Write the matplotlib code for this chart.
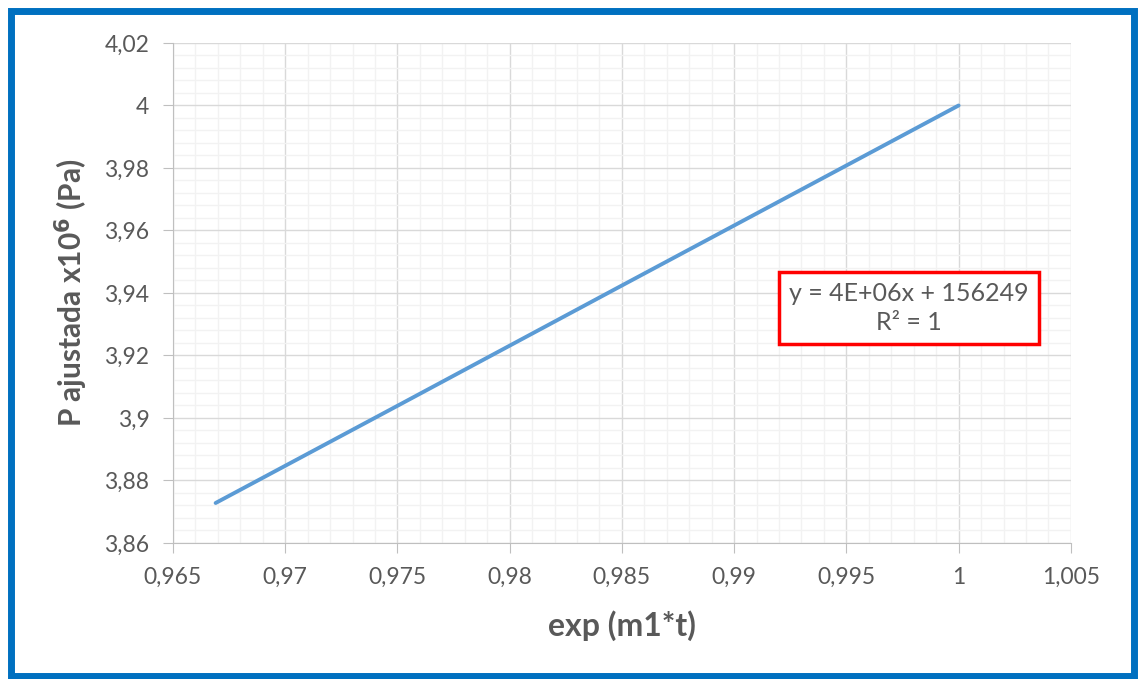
import matplotlib
matplotlib.use('Agg')
import matplotlib.pyplot as plt
from matplotlib.patches import Rectangle
from matplotlib.ticker import MultipleLocator, FuncFormatter

# data (x = exp(m1*t), y = P adjusted in MPa)
x_vals = [0.9669, 0.975, 0.985, 0.995, 1.0]
y_vals = [3.8728, 3.9039, 3.9424, 3.9808, 4.0]
fit_text = 'y = 4E+06x + 156249\nR² = 1'

plt.rcParams['font.family'] = ['Lato', 'DejaVu Sans']
GRAY = '#595959'

fig = plt.figure(figsize=(11.38, 6.79), dpi=100)
ax = fig.add_axes([0.152, 0.2003, 0.789, 0.7364])

ax.plot(x_vals, y_vals, color='#5B9BD5', lw=2.8, solid_capstyle='round')

ax.set_xlim(0.965, 1.005)
ax.set_ylim(3.86, 4.02)
ax.xaxis.set_major_locator(MultipleLocator(0.005))
ax.xaxis.set_minor_locator(MultipleLocator(0.001))
ax.yaxis.set_major_locator(MultipleLocator(0.02))
ax.yaxis.set_minor_locator(MultipleLocator(0.004))


def comma_fmt(v, pos):
    return ('%g' % round(v, 4)).replace('.', ',')


ax.xaxis.set_major_formatter(FuncFormatter(comma_fmt))
ax.yaxis.set_major_formatter(FuncFormatter(comma_fmt))

ax.grid(which='major', color='#D9D9D9', lw=1.0)
ax.grid(which='minor', color='#F2F2F2', lw=1.0)
ax.set_axisbelow(True)
for s in ['top', 'right']:
    ax.spines[s].set_visible(False)
for s in ['bottom', 'left']:
    ax.spines[s].set_color('#BFBFBF')
ax.tick_params(which='major', length=7, color='#BFBFBF', labelsize=16.5,
               labelcolor=GRAY, pad=10)
ax.tick_params(which='minor', length=0)

ax.set_xlabel('exp (m1*t)', fontsize=23, fontweight='bold', color=GRAY, labelpad=16)
ax.set_ylabel('P ajustada x10$^{\\mathbf{6}}$ (Pa)', fontsize=21.5, fontweight='bold',
              color=GRAY, labelpad=10)

ax.text(0.99778, 3.9352, fit_text, ha='center', va='center', fontsize=18,
        color=GRAY, linespacing=1.3,
        bbox=dict(boxstyle='square,pad=0.4', fc='white', ec='#FF0000', lw=2.5))

fig.patches.append(Rectangle((11 / 1138, 1 - 675.5 / 679), 1123 / 1138, 664.5 / 679,
                             transform=fig.transFigure, fill=False,
                             ec='#0070C0', lw=5))

fig.savefig('out.png', dpi=100)
